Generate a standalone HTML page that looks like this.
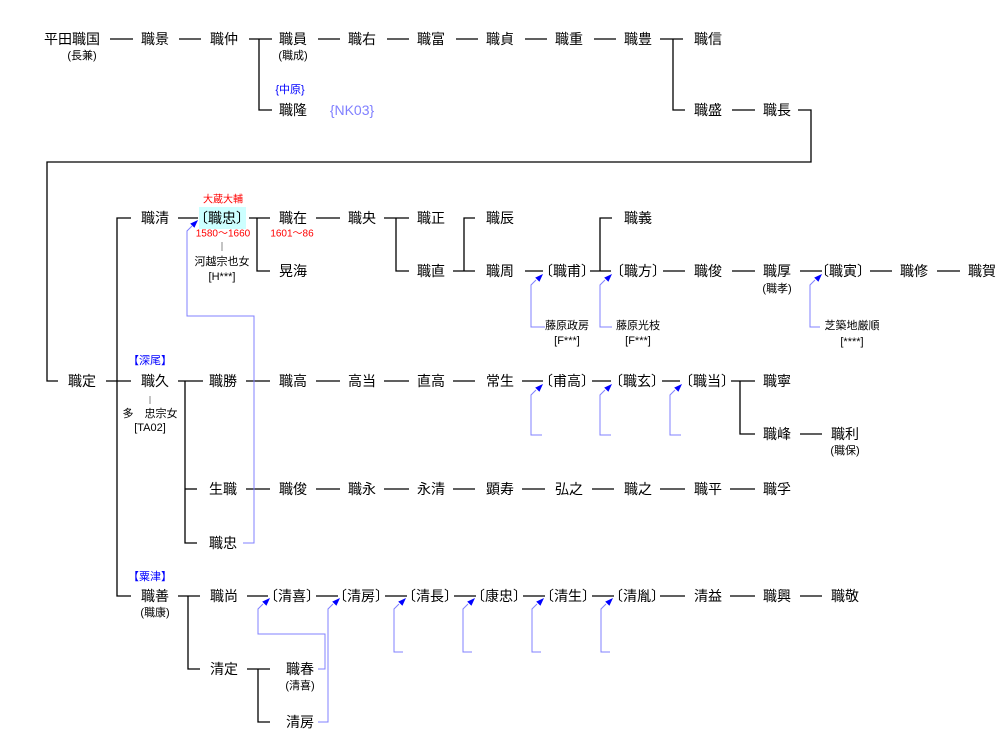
<!DOCTYPE html>
<html><head><meta charset="utf-8"><style>
html,body{margin:0;padding:0;background:#fff;}
svg{display:block;}
text{font-family:"Liberation Sans","Noto Sans CJK JP",sans-serif;font-size:14px;text-anchor:middle;dominant-baseline:central;fill:#000;}
.s{font-size:11px;}
.r{font-size:10px;fill:#f00;}
.b{font-size:11px;fill:#00f;}
.k line,.k polyline{stroke:#000;stroke-width:1.3;fill:none;}
.a polyline{stroke:#8080ff;stroke-width:1;fill:none;}
.a polygon{fill:#0000ff;}
</style></head><body>
<svg width="1007" height="755" viewBox="0 0 1007 755" xmlns="http://www.w3.org/2000/svg">
<g class="k">
<line x1="110" y1="39" x2="133" y2="39"/><line x1="179" y1="39" x2="201" y2="39"/>
<line x1="249" y1="39" x2="272" y2="39"/><polyline points="259,39 259,110 272,110"/>
<line x1="318" y1="39" x2="340" y2="39"/><line x1="387" y1="39" x2="409" y2="39"/>
<line x1="456" y1="39" x2="478" y2="39"/><line x1="525" y1="39" x2="547" y2="39"/>
<line x1="594" y1="39" x2="616" y2="39"/><line x1="660" y1="39" x2="683" y2="39"/>
<polyline points="673,39 673,110 685,110"/><line x1="732" y1="110" x2="755" y2="110"/>
<polyline points="798,110 811,110 811,162 47,162 47,381 58,381"/>
<line x1="106" y1="381" x2="131" y2="381"/><polyline points="131,218 117,218 117,596 131,596"/>
<line x1="178" y1="218" x2="198" y2="218"/>
<line x1="249" y1="218" x2="270" y2="218"/><polyline points="257,218 257,271 270,271"/>
<line x1="316" y1="218" x2="340" y2="218"/>
<line x1="384" y1="218" x2="409" y2="218"/><polyline points="396,218 396,271 409,271"/>
<line x1="453" y1="271" x2="475" y2="271"/><polyline points="464,271 464,218 475,218"/>
<line x1="525" y1="271" x2="543" y2="271"/>
<line x1="590" y1="271" x2="611" y2="271"/><polyline points="600,271 600,218 612,218"/>
<line x1="663" y1="271" x2="685" y2="271"/><line x1="732" y1="271" x2="755" y2="271"/>
<line x1="800" y1="271" x2="822" y2="271"/><line x1="870" y1="271" x2="892" y2="271"/>
<line x1="937" y1="271" x2="960" y2="271"/>
<line x1="178" y1="381" x2="203" y2="381"/><polyline points="185,381 185,543 197,543"/><line x1="185" y1="489" x2="197" y2="489"/>
<line x1="246" y1="381" x2="270" y2="381"/><line x1="316" y1="381" x2="340" y2="381"/>
<line x1="384" y1="381" x2="409" y2="381"/><line x1="453" y1="381" x2="475" y2="381"/>
<line x1="522" y1="381" x2="543" y2="381"/><line x1="592" y1="381" x2="611" y2="381"/>
<line x1="662" y1="381" x2="680" y2="381"/>
<line x1="731" y1="381" x2="755" y2="381"/><polyline points="740,381 740,434 755,434"/>
<line x1="800" y1="434" x2="822" y2="434"/>
<line x1="246" y1="489" x2="270" y2="489"/><line x1="316" y1="489" x2="340" y2="489"/>
<line x1="384" y1="489" x2="409" y2="489"/><line x1="453" y1="489" x2="475" y2="489"/>
<line x1="522" y1="489" x2="545" y2="489"/><line x1="592" y1="489" x2="614" y2="489"/>
<line x1="660" y1="489" x2="685" y2="489"/><line x1="730" y1="489" x2="755" y2="489"/>
<line x1="178" y1="596" x2="200" y2="596"/><polyline points="188,596 188,669 200,669"/>
<line x1="247" y1="596" x2="268" y2="596"/><line x1="316" y1="596" x2="338" y2="596"/>
<line x1="385" y1="596" x2="407" y2="596"/><line x1="454" y1="596" x2="476" y2="596"/>
<line x1="523" y1="596" x2="545" y2="596"/><line x1="592" y1="596" x2="614" y2="596"/>
<line x1="660" y1="596" x2="685" y2="596"/><line x1="730" y1="596" x2="755" y2="596"/>
<line x1="800" y1="596" x2="822" y2="596"/>
<line x1="247" y1="669" x2="270" y2="669"/><polyline points="258,669 258,722 270,722"/>
</g>
<line x1="222" y1="242" x2="222" y2="251" stroke="#888" stroke-width="1"/>
<line x1="150" y1="396" x2="150" y2="404" stroke="#888" stroke-width="1"/>
<g class="a">
<polyline points="243,543 254,543 254,316 187,316 187,231 192,226"/><polygon points="198,220 194.4,227.8 190.2,223.6"/>
<polyline points="545,327 531,327 531,285 536,280"/><polygon points="543,274 539.4,281.8 535.2,277.6"/>
<polyline points="612,327 600,327 600,285 605,280"/><polygon points="612,274 608.4,281.8 604.2,277.6"/>
<polyline points="820,327 810,327 810,285 815,280"/><polygon points="822,274 818.4,281.8 814.2,277.6"/>
<polyline points="542,435 531,435 531,395 536,390"/><polygon points="543,384 539.4,391.8 535.2,387.6"/>
<polyline points="611,435 600,435 600,395 605,390"/><polygon points="612,384 608.4,391.8 604.2,387.6"/>
<polyline points="681,435 670,435 670,395 675,390"/><polygon points="682,384 678.4,391.8 674.2,387.6"/>
<polyline points="318,669 325,669 325,634 258,634 258,609 263,604"/><polygon points="270,598 266.4,605.8 262.2,601.6"/>
<polyline points="318,722 328,722 328,609 333,604"/><polygon points="340,598 336.4,605.8 332.2,601.6"/>
<polyline points="403,652 394,652 394,609 399,604"/><polygon points="406,598 402.4,605.8 398.2,601.6"/>
<polyline points="472,652 463,652 463,609 468,604"/><polygon points="475,598 471.4,605.8 467.2,601.6"/>
<polyline points="541,652 532,652 532,609 537,604"/><polygon points="544,598 540.4,605.8 536.2,601.6"/>
<polyline points="610,652 601,652 601,609 606,604"/><polygon points="613,598 609.4,605.8 605.2,601.6"/>
</g>
<rect x="199" y="207" width="47" height="22" fill="#ccffff"/>
<text x="72" y="39">平田職国</text><text x="82" y="56" class="s">(長兼)</text>
<text x="155" y="39">職景</text><text x="224" y="39">職仲</text>
<text x="293" y="39">職員</text><text x="293" y="56" class="s">(職成)</text>
<text x="362" y="39">職右</text><text x="431" y="39">職富</text><text x="500" y="39">職貞</text>
<text x="569" y="39">職重</text><text x="638" y="39">職豊</text><text x="708" y="39">職信</text>
<text x="290" y="90" class="b">{中原}</text>
<text x="293" y="110">職隆</text><text x="352" y="110" style="fill:#8080ff">{NK03}</text>
<text x="708" y="110">職盛</text><text x="777" y="110">職長</text>
<text x="155" y="218">職清</text>
<text x="223" y="200" class="r">大蔵大輔</text>
<text x="222" y="218">〔職忠〕</text>
<text x="223" y="234" class="r">1580〜1660</text>
<text x="222" y="262" class="s">河越宗也女</text><text x="222" y="277" class="s">[H***]</text>
<text x="293" y="218">職在</text><text x="292" y="234" class="r">1601〜86</text>
<text x="293" y="271">晃海</text>
<text x="362" y="218">職央</text>
<text x="431" y="218">職正</text><text x="431" y="271">職直</text>
<text x="500" y="218">職辰</text><text x="500" y="271">職周</text>
<text x="567" y="271">〔職甫〕</text>
<text x="638" y="218">職義</text><text x="638" y="271">〔職方〕</text>
<text x="708" y="271">職俊</text>
<text x="777" y="271">職厚</text><text x="777" y="289" class="s">(職孝)</text>
<text x="843" y="271">〔職寅〕</text>
<text x="914" y="271">職修</text><text x="982" y="271">職賀</text>
<text x="567" y="326" class="s">藤原政房</text><text x="567" y="341" class="s">[F***]</text>
<text x="638" y="326" class="s">藤原光枝</text><text x="638" y="341" class="s">[F***]</text>
<text x="852" y="326" class="s">芝築地厳順</text><text x="852" y="342" class="s">[****]</text>
<text x="82" y="381">職定</text>
<text x="150" y="361" class="b">【深尾】</text>
<text x="155" y="381">職久</text>
<text x="150" y="414" class="s">多　忠宗女</text><text x="150" y="428" class="s">[TA02]</text>
<text x="223" y="381">職勝</text><text x="293" y="381">職高</text><text x="362" y="381">高当</text>
<text x="431" y="381">直高</text><text x="500" y="381">常生</text>
<text x="567" y="381">〔甫高〕</text><text x="637" y="381">〔職玄〕</text><text x="707" y="381">〔職当〕</text>
<text x="777" y="381">職寧</text><text x="777" y="434">職峰</text>
<text x="845" y="434">職利</text><text x="845" y="451" class="s">(職保)</text>
<text x="223" y="489">生職</text><text x="293" y="489">職俊</text><text x="362" y="489">職永</text>
<text x="431" y="489">永清</text><text x="500" y="489">顕寿</text><text x="569" y="489">弘之</text>
<text x="638" y="489">職之</text><text x="708" y="489">職平</text><text x="777" y="489">職孚</text>
<text x="223" y="543">職忠</text>
<text x="150" y="577" class="b">【粟津】</text>
<text x="155" y="596">職善</text><text x="155" y="613" class="s">(職康)</text>
<text x="224" y="596">職尚</text>
<text x="292" y="596">〔清喜〕</text><text x="361" y="596">〔清房〕</text><text x="430" y="596">〔清長〕</text>
<text x="499" y="596">〔康忠〕</text><text x="568" y="596">〔清生〕</text><text x="637" y="596">〔清胤〕</text>
<text x="708" y="596">清益</text><text x="777" y="596">職興</text><text x="845" y="596">職敬</text>
<text x="224" y="669">清定</text>
<text x="300" y="669">職春</text><text x="300" y="686" class="s">(清喜)</text>
<text x="300" y="722">清房</text>
</svg>
</body></html>
